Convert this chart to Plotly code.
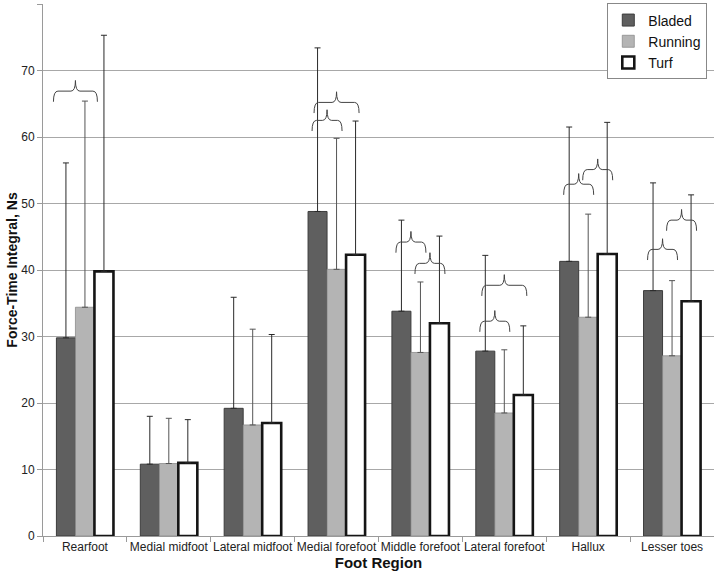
import plotly.graph_objects as go

categories = ["Rearfoot", "Medial midfoot", "Lateral midfoot", "Medial forefoot",
              "Middle forefoot", "Lateral forefoot", "Hallux", "Lesser toes"]
series_names = ["Bladed", "Running", "Turf"]

bladed_mean = [29.8, 10.8, 19.2, 48.8, 33.8, 27.8, 41.3, 36.9]
bladed_sd = [26.3, 7.2, 16.7, 24.6, 13.7, 14.4, 20.2, 16.2]
running_mean = [34.4, 10.9, 16.7, 40.1, 27.6, 18.5, 32.9, 27.1]
running_sd = [31.0, 6.8, 14.4, 19.7, 10.6, 9.5, 15.5, 11.3]
turf_mean = [39.8, 11.0, 17.0, 42.3, 32.0, 21.2, 42.4, 35.3]
turf_sd = [35.5, 6.5, 13.3, 20.1, 13.1, 10.4, 19.8, 16.0]

y_ticks = [0, 10, 20, 30, 40, 50, 60, 70, 80]

# significance braces: (category index, series a, series b, brace base value)
brace_cat = [0, 3, 3, 4, 4, 5, 5, 6, 6, 7, 7]
brace_a = [0, 0, 0, 0, 1, 0, 0, 0, 1, 0, 1]
brace_b = [1, 1, 2, 1, 2, 2, 1, 1, 2, 1, 2]
brace_base = [65.3, 60.9, 63.6, 42.6, 39.4, 36.1, 30.7, 51.3, 53.5, 41.5, 45.9]

# ---- styles ----
BARGAP = 0.32
FONT = "Liberation Sans, Arial, sans-serif"
fill_colors = ["#5f5f5f", "#b4b4b4", "#ffffff"]
line_colors = ["#3c3c3c", "#8c8c8c", "#151515"]
line_widths = [1, 0.8, 2.6]
err_colors = ["#2a2a2a", "#555555", "#2a2a2a"]

means = [bladed_mean, running_mean, turf_mean]
sds = [bladed_sd, running_sd, turf_sd]
xs = list(range(len(categories)))

fig = go.Figure()
for k, name in enumerate(series_names):
    fig.add_trace(go.Bar(
        name=name, x=xs, y=means[k],
        marker=dict(color=fill_colors[k], line=dict(color=line_colors[k], width=line_widths[k])),
        error_y=dict(type="data", array=sds[k], symmetric=False, arrayminus=[0] * len(xs),
                     color=err_colors[k], thickness=1, width=3),
    ))

# braces
bar_w = (1 - BARGAP) / 3
px_per_unit_x = 672 / 8.0
brace_h = 3.2
cusp_r = 4.5 / px_per_unit_x
shapes = []
for c, a, b, base in zip(brace_cat, brace_a, brace_b, brace_base):
    xa = c + (a - 1) * bar_w
    xb = c + (b - 1) * bar_w
    xc = (xa + xb) / 2
    if c == 0:
        pad = 12.5 / px_per_unit_x
    elif b - a == 2:
        pad = 3.5 / px_per_unit_x
    else:
        pad = 5.5 / px_per_unit_x
    x0, x1 = xa - pad, xb + pad
    mid = base + brace_h / 2
    peak = base + brace_h
    r = cusp_r
    path = (f"M {x0},{base} Q {x0},{mid} {x0 + r},{mid} L {xc - r},{mid} "
            f"Q {xc},{mid} {xc},{peak} Q {xc},{mid} {xc + r},{mid} "
            f"L {x1 - r},{mid} Q {x1},{mid} {x1},{base}")
    shapes.append(dict(type="path", path=path, xref="x", yref="y",
                       line=dict(color="#444444", width=1)))

fig.update_layout(
    width=714, height=571,
    margin=dict(l=43, r=0, t=4, b=35, autoexpand=False),
    paper_bgcolor="white", plot_bgcolor="white",
    barmode="group", bargap=BARGAP, bargroupgap=0,
    font=dict(family=FONT, size=12, color="#222222"),
    shapes=shapes,
    showlegend=True,
    legend=dict(x=0.99, y=1.001, xanchor="right", yanchor="top",
                bgcolor="white", bordercolor="#888888", borderwidth=1,
                font=dict(family=FONT, size=14, color="#111111"),
                itemwidth=30, tracegroupgap=0),
    xaxis=dict(
        range=[-0.5, 7.5], tickmode="array", tickvals=xs, ticktext=categories,
        ticks="", showgrid=False, zeroline=False, automargin=False,
        showline=True, linecolor="#9a9a9a", linewidth=1,
        tickfont=dict(family=FONT, size=12, color="#222222"),
        minor=dict(tick0=-0.5, dtick=1, ticks="outside", ticklen=5, tickcolor="#9a9a9a", showgrid=False),
        title=dict(text="<b>Foot Region</b>", font=dict(family=FONT, size=15, color="#111111"), standoff=0),
    ),
    yaxis=dict(
        range=[0, 80], tickmode="array", tickvals=y_ticks,
        ticks="outside", ticklen=5, tickcolor="#9a9a9a", automargin=False,
        showgrid=True, gridcolor="#a8a8a8", gridwidth=1, zeroline=False,
        showline=True, linecolor="#9a9a9a", linewidth=1,
        tickfont=dict(family=FONT, size=12, color="#222222"),
        title=dict(text="<b>Force-Time Integral, Ns</b>", font=dict(family=FONT, size=14, color="#111111"), standoff=0),
    ),
)

fig.write_html("out.html", config={"displayModeBar": False},
               post_script="document.body.style.margin='0';document.body.style.overflow='hidden';")
